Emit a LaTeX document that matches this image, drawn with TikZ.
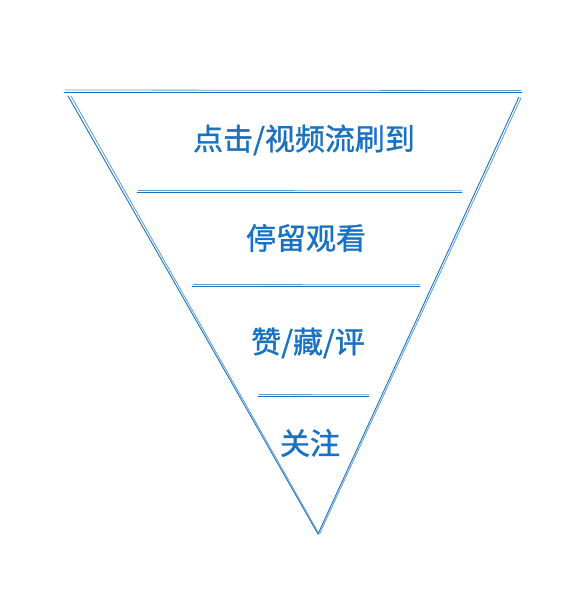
\documentclass[tikz,border=0pt]{standalone}
\usepackage{fontspec}
\newfontfamily\cjk[FakeBold=1.2]{Noto Sans CJK SC}
\usetikzlibrary{calc}
\definecolor{sketchblue}{HTML}{1971C2}
\tikzset{
	sketch/.style={draw=sketchblue, line width=0.9pt, line cap=round},
	sketchtwo/.style={draw=sketchblue!70, line width=0.8pt, line cap=round},
	label/.style={text=sketchblue, font=\cjk\fontsize{30}{30}\selectfont, inner sep=0pt}
}
\begin{document}
\begin{tikzpicture}[x=1pt, y=-1pt]
	\useasboundingbox (0,0) rectangle (586,598);
	\coordinate (tl) at (64,92); \coordinate (tr) at (522,92);
	\coordinate (ll) at (68,96); \coordinate (rr) at (519,97);
	\coordinate (ap) at (318,534);
	% outline
	\draw[sketch] (tl)--(tr); \draw[sketchtwo] ($(tl)+(1,-2)$)--($(tr)+(-1,-1.5)$);
	\draw[sketch] (ll)--(ap); \draw[sketchtwo] ($(ll)+(3,0)$)--($(ap)+(0.5,-1)$);
	\draw[sketch] (rr)--(ap); \draw[sketchtwo] ($(rr)+(2,1)$)--($(ap)+(1.5,0)$);
	% dividers
	\coordinate (d1a) at (137,192); \coordinate (d1b) at (462,192);
	\coordinate (d2a) at (192,286); \coordinate (d2b) at (420,286);
	\coordinate (d3a) at (258,396); \coordinate (d3b) at (369,396);
	\foreach \a/\b in {d1a/d1b, d2a/d2b, d3a/d3b} {
		\draw[sketch] (\a)--(\b);
		\draw[sketchtwo] ($(\a)+(1,-1.5)$)--($(\b)+(0,-1.2)$);
	}
	% stages
	\node[label] (click) at (304,140) {点击/视频流刷到};
	\node[label] (stay) at (306,238) {停留观看};
	\node[label] (like) at (308,343) {赞/藏/评};
	\node[label] (follow) at (310,443) {关注};
\end{tikzpicture}
\end{document}
